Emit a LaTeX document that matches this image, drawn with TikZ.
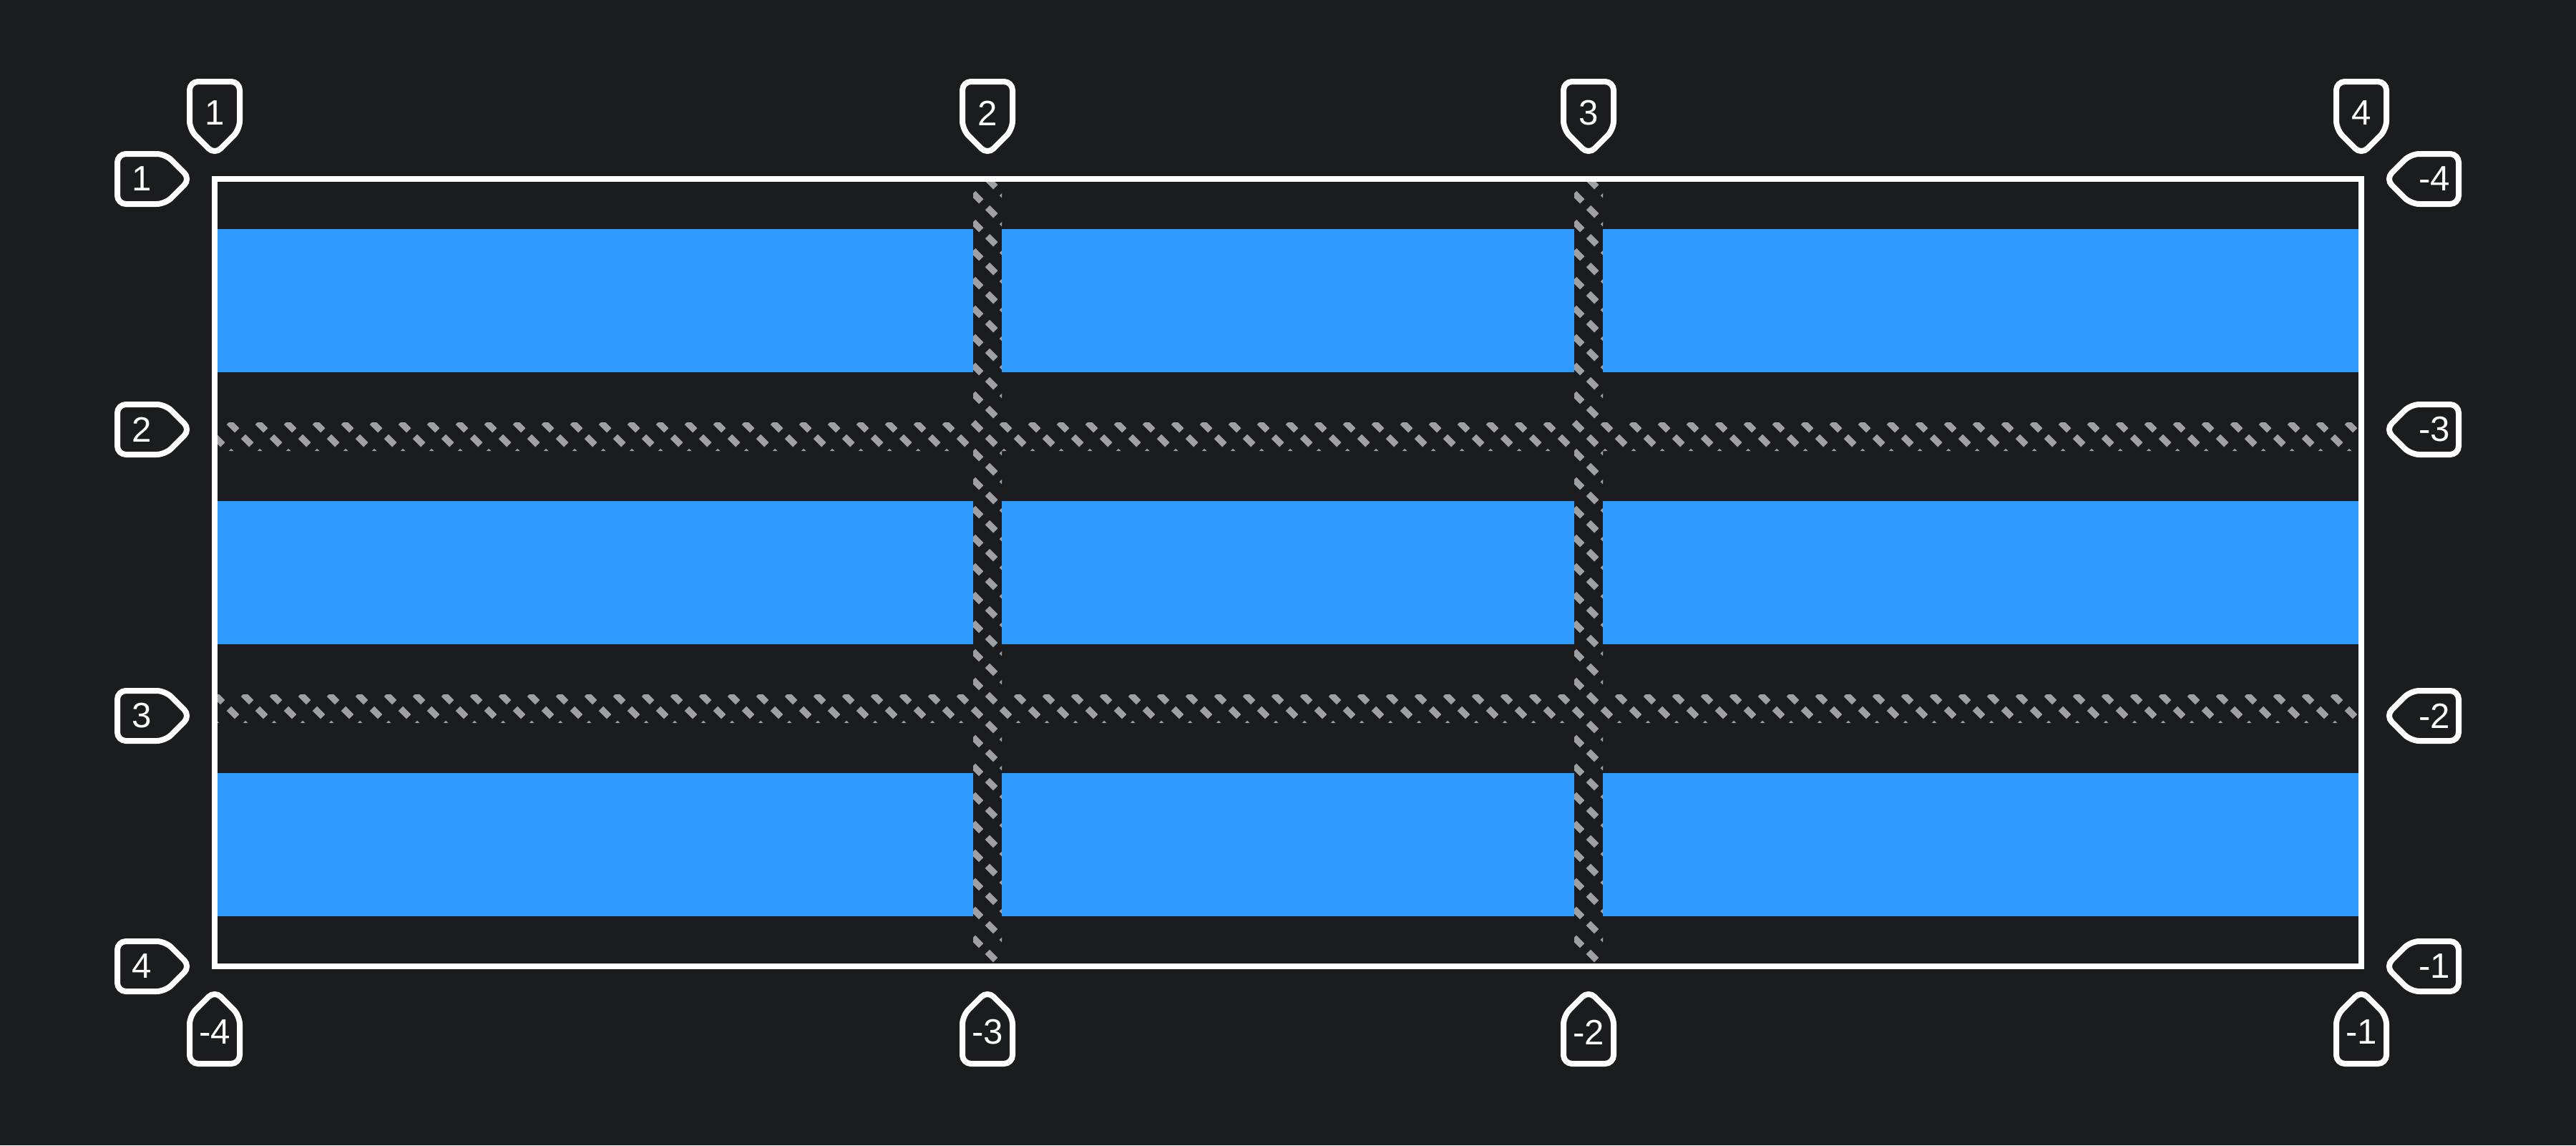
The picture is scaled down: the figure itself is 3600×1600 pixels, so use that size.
\documentclass[tikz,border=0pt]{standalone}
\usepackage{fontspec}
\setmainfont{Liberation Sans}
\definecolor{bg}{RGB}{27,28,32}
\definecolor{itemblue}{RGB}{46,154,255}
\definecolor{hatchgray}{RGB}{160,160,160}
\tikzset{
  tag/.style={draw=white, fill=bg, line width=0.8mm, rounded corners=1.2mm},
  tagtext/.style={text=white, font=\fontsize{14}{16}\selectfont, inner sep=0pt},
  hatch/.style={draw=hatchgray, line width=0.9mm, dash pattern=on 1.6mm off 1.228mm}
}

\begin{document}
\begin{tikzpicture}[x=0.1mm,y=-0.1mm]
% Background
\fill[bg] (0,0) rectangle (3600,1600);
\useasboundingbox (0,0) rectangle (3600,1600);
% Grid items
\foreach \y in {320,700,1080} {
  \fill[itemblue] (300,\y) rectangle (1360,\y+200);
  \fill[itemblue] (1400,\y) rectangle (2200,\y+200);
  \fill[itemblue] (2240,\y) rectangle (3300,\y+200);
}
% Hatched gaps
\begin{scope}
\clip (1360,250) rectangle (1400,1350) (2200,250) rectangle (2240,1350)
      (300,590) rectangle (3300,630) (300,970) rectangle (3300,1010);
\foreach \x in {-820,-780,...,3300}
  \draw[hatch] (\x,250) -- ++(1100,1100);
\end{scope}
% Grid container
\draw[white, line width=0.8mm] (300,250) rectangle (3300,1350);
% Column line tags
\foreach \x/\t [count=\i] in {300/1,1380/2,2220/3,3300/4} {
  \draw[tag] (\x,216) -- ++(-35,-35) -- ++(0,-67) -- ++(70,0) -- ++(0,67) -- cycle;
  \node[tagtext] (colT\i) at (\x,158) {\t};
}
\foreach \x/\t [count=\i] in {300/-4,1380/-3,2220/-2,3300/-1} {
  \draw[tag] (\x,1384) -- ++(-35,35) -- ++(0,67) -- ++(70,0) -- ++(0,-67) -- cycle;
  \node[tagtext] (colB\i) at (\x,1442) {\t};
}
% Row line tags
\foreach \y/\t [count=\i] in {250/1,600/2,1000/3,1350/4} {
  \draw[tag] (266,\y) -- ++(-35,-35) -- ++(-67,0) -- ++(0,70) -- ++(67,0) -- cycle;
  \node[tagtext] (rowL\i) at (198,\y) {\t};
}
\foreach \y/\t [count=\i] in {250/-4,600/-3,1000/-2,1350/-1} {
  \draw[tag] (3334,\y) -- ++(35,-35) -- ++(67,0) -- ++(0,70) -- ++(-67,0) -- cycle;
  \node[tagtext] (rowR\i) at (3402,\y) {\t};
}
\end{tikzpicture}
\end{document}
